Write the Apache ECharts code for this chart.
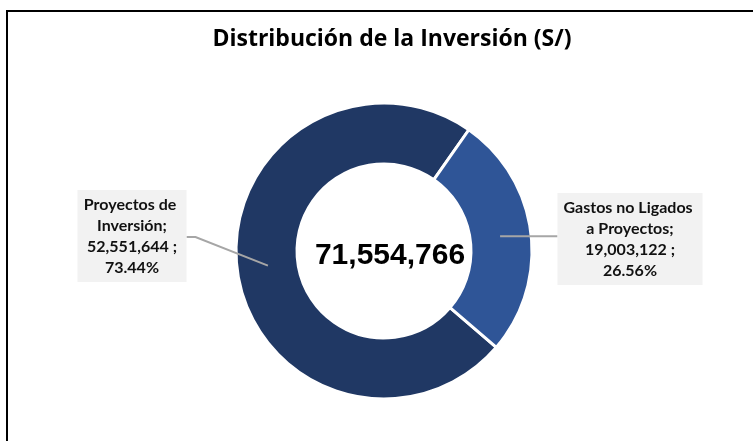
<!DOCTYPE html>
<html>
<head>
<meta charset="utf-8">
<script src="https://cdn.jsdelivr.net/npm/echarts@6/dist/echarts.min.js"></script>
<style>
  html, body { margin: 0; padding: 0; background: #fff; }
  #chart { width: 753px; height: 441px; }
</style>
</head>
<body>
<div id="chart"></div>
<script>
// datos del gráfico
const categories = ['Proyectos de Inversión', 'Gastos no Ligados a Proyectos']
const values = [52551644, 19003122]
const titleText = 'Distribución de la Inversión (S/)'

const COLORS = ['#203864', '#2F5597']
const LABEL_FONT = 'Lato, "Noto Sans", sans-serif'
const CENTER = [384, 251]

const total = values.reduce((a, b) => a + b, 0)
const fmt = v => v.toLocaleString('en-US')

const chart = echarts.init(document.getElementById('chart'))

// posición de las etiquetas (centro de la caja) y ancho de texto
const labelSide = [
    { x: 132, y: 236, width: 99 },
    { x: 630, y: 239, width: 135 }
]

const option = {
    animation: false,
    title: [
        {
            text: titleText,
            left: 387,
            textAlign: 'center',
            top: 23,
            textStyle: { fontFamily: '"Open Sans", sans-serif', fontSize: 23, fontWeight: 'bold', color: '#000' }
        }
    ],
    graphic: [
        {
            type: 'rect',
            shape: { x: 7, y: 11, width: 900, height: 600 },
            style: { fill: 'none', stroke: '#000', lineWidth: 2 },
            silent: true
        },
        {
            type: 'text',
            x: 390,
            y: 256,
            style: {
                text: fmt(total),
                fontFamily: '"Liberation Sans", Arial, sans-serif',
                fontSize: 30,
                fontWeight: 'bold',
                fill: '#000',
                align: 'center',
                verticalAlign: 'middle'
            }
        }
    ],
    series: [
        {
            // anillo visible
            type: 'pie',
            center: CENTER,
            radius: [87, 148],
            startAngle: -40.6,
            clockwise: true,
            label: { show: false },
            labelLine: { show: false },
            itemStyle: { borderColor: '#fff', borderWidth: 3 },
            silent: true,
            data: categories.map((name, i) => ({
                name,
                value: values[i],
                itemStyle: { color: COLORS[i] }
            }))
        },
        {
            // serie invisible: origen de las líneas guía en el centro del anillo
            type: 'pie',
            center: CENTER,
            radius: [0, 117],
            startAngle: -40.6,
            clockwise: true,
            silent: true,
            z: 5,
            itemStyle: { color: 'transparent' },
            label: {
                show: true,
                position: 'outside',
                fontFamily: LABEL_FONT,
                fontSize: 16,
                fontWeight: 'bold',
                lineHeight: 21,
                color: '#111',
                backgroundColor: '#F2F2F2',
                padding: [4, 5, 4, 5],
                align: 'center',
                overflow: 'break',
                formatter: p => p.name + ';\n' + fmt(p.value) + ' ;\n' + p.percent.toFixed(2) + '%'
            },
            labelLine: {
                show: true,
                length: 20,
                length2: 10,
                lineStyle: { color: '#A6A6A6', width: 2 }
            },
            data: categories.map((name, i) => ({
                name,
                value: values[i],
                label: { width: labelSide[i].width }
            })),
            labelLayout: params => {
                const s = labelSide[params.dataIndex]
                const r = params.labelRect
                const start = params.labelLinePoints ? params.labelLinePoints[0] : null
                const left = s.x < CENTER[0]
                const edgeX = left ? s.x + r.width / 2 : s.x - r.width / 2
                const out = {
                    x: s.x,
                    y: s.y,
                    align: 'center',
                    verticalAlign: 'middle'
                }
                if (start) {
                    out.labelLinePoints = left
                        ? [start, [edgeX + 9, s.y + 1], [edgeX, s.y + 1]]
                        : [start, [edgeX, start[1]], [edgeX, start[1]]]
                }
                return out
            }
        }
    ]
}

chart.setOption(option)
</script>
</body>
</html>
